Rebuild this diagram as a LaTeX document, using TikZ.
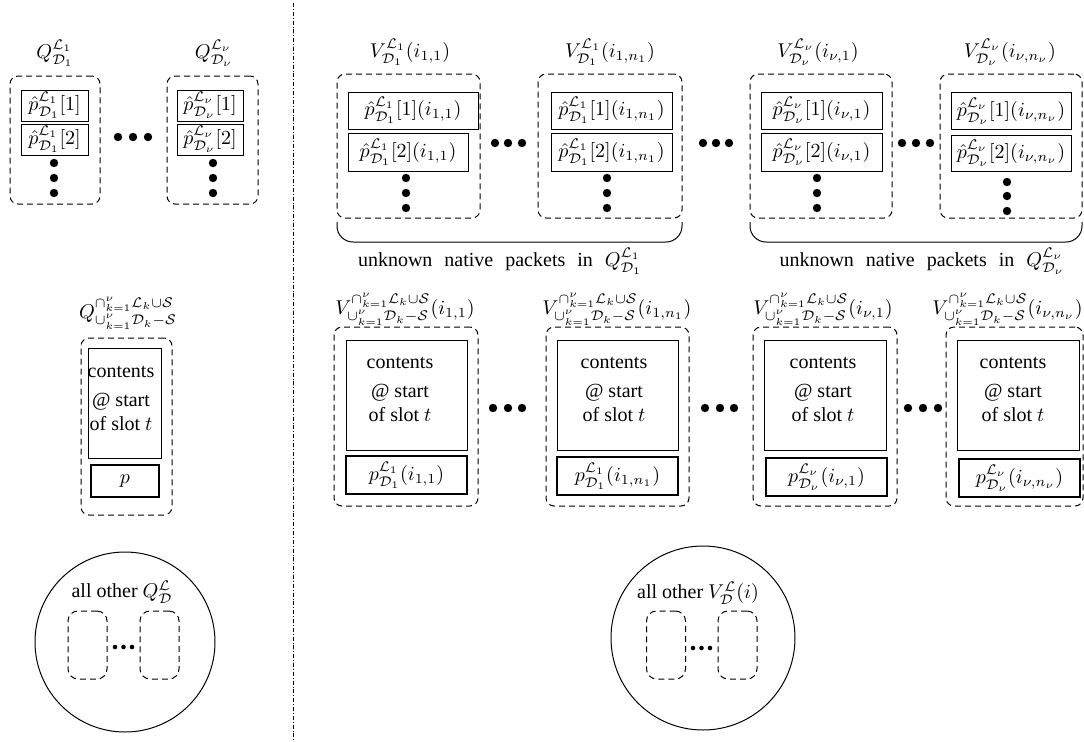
\documentclass[tikz,border=0pt]{standalone}
\usepackage[no-math]{fontspec}
\setmainfont{Liberation Serif}
\newcommand{\Ssup}{\smash{\raisebox{1.7pt}{$\scriptstyle\cap_{k=1}^{\nu}\mathcal{L}_k\cup\mathcal{S}$}}}
\newcommand{\Ssub}{\smash{\raisebox{-1pt}{$\scriptstyle\cup_{k=1}^{\nu}\mathcal{D}_k-\mathcal{S}$}}}
\begin{document}
\begin{tikzpicture}[x=0.5pt,y=-0.5pt,
  obox/.style={draw, dash pattern=on 3pt off 2pt, rounded corners=4pt, line width=0.5pt, inner sep=0pt},
  pbox/.style={draw, line width=0.5pt, inner sep=0pt},
  tbox/.style={draw, line width=1.3pt, inner sep=0pt},
  sbox/.style={draw, dash pattern=on 3pt off 2pt, rounded corners=5pt, line width=0.5pt, inner sep=0pt, minimum width=19.5pt, minimum height=34pt},
  bdot/.style={circle, fill, inner sep=0pt, minimum size=4.2pt},
  sdot/.style={circle, fill, inner sep=0pt, minimum size=2.3pt},
  title/.style={inner sep=0pt},
  ctext/.style={align=center, inner sep=0pt},
  bigcirc/.style={draw, circle, line width=0.5pt, inner sep=0pt}
]
\useasboundingbox (0,0) rectangle (1084,741);

% separator
\coordinate (vt) at (293,3);
\coordinate (vb) at (293,741);
\draw[line width=0.5pt, dash pattern=on 2pt off 1pt on 0.4pt off 1pt] (vt) -- (vb);

% ---------- top left ----------
\node[title] (q1t) at (55,53) {$Q^{\mathcal{L}_1}_{\mathcal{D}_1}$};
\node[obox, minimum width=45pt, minimum height=64pt] (q1) at (55,140) {};
\node[pbox, minimum width=33.5pt, minimum height=15.5pt] (q1a) at (54.5,105.5) {$\hat{p}^{\mathcal{L}_1}_{\mathcal{D}_1}[1]$};
\node[pbox, minimum width=33.5pt, minimum height=15.5pt] (q1b) at (54.5,139.5) {$\hat{p}^{\mathcal{L}_1}_{\mathcal{D}_1}[2]$};
\node[bdot] (q1d1) at (54,163) {};
\node[bdot] (q1d2) at (54,178) {};
\node[bdot] (q1d3) at (54,193) {};

\node[bdot] (qh1) at (118,137) {};
\node[bdot] (qh2) at (133,137) {};
\node[bdot] (qh3) at (148,137) {};

\node[title] (q2t) at (214,53) {$Q^{\mathcal{L}_\nu}_{\mathcal{D}_\nu}$};
\node[obox, minimum width=45.5pt, minimum height=64pt] (q2) at (212.5,140) {};
\node[pbox, minimum width=33pt, minimum height=15.5pt] (q2a) at (210,105.5) {$\hat{p}^{\mathcal{L}_\nu}_{\mathcal{D}_\nu}[1]$};
\node[pbox, minimum width=33pt, minimum height=15.5pt] (q2b) at (210,139.5) {$\hat{p}^{\mathcal{L}_\nu}_{\mathcal{D}_\nu}[2]$};
\node[bdot] (q2d1) at (213,163) {};
\node[bdot] (q2d2) at (213,178) {};
\node[bdot] (q2d3) at (213,193) {};

% ---------- top right ----------
\node[title] (v1t) at (410,52) {$V^{\mathcal{L}_1}_{\mathcal{D}_1}(i_{1,1})$};
\node[obox, minimum width=71.5pt, minimum height=72pt] (v1) at (408.5,146) {};
\node[pbox, minimum width=65pt, minimum height=18.5pt] (v1a) at (413,110.5) {$\hat{p}^{\mathcal{L}_1}_{\mathcal{D}_1}[1](i_{1,1})$};
\node[pbox, minimum width=60pt, minimum height=19pt] (v1b) at (408,152) {$\hat{p}^{\mathcal{L}_1}_{\mathcal{D}_1}[2](i_{1,1})$};
\node[bdot] (v1d1) at (406,178) {};
\node[bdot] (v1d2) at (406,193) {};
\node[bdot] (v1d3) at (406,208) {};

\node[bdot] (vh11) at (495,143) {};
\node[bdot] (vh12) at (508,143) {};
\node[bdot] (vh13) at (522,143) {};

\node[title] (v2t) at (610,52) {$V^{\mathcal{L}_1}_{\mathcal{D}_1}(i_{1,n_1})$};
\node[obox, minimum width=72pt, minimum height=72pt] (v2) at (610,146) {};
\node[pbox, minimum width=60.5pt, minimum height=18.5pt] (v2a) at (611.5,110.5) {$\hat{p}^{\mathcal{L}_1}_{\mathcal{D}_1}[1](i_{1,n_1})$};
\node[pbox, minimum width=60.5pt, minimum height=19pt] (v2b) at (611.5,152) {$\hat{p}^{\mathcal{L}_1}_{\mathcal{D}_1}[2](i_{1,n_1})$};
\node[bdot] (v2d1) at (607,178) {};
\node[bdot] (v2d2) at (607,193) {};
\node[bdot] (v2d3) at (607,208) {};

\node[bdot] (vh21) at (703,143) {};
\node[bdot] (vh22) at (716,143) {};
\node[bdot] (vh23) at (729,143) {};

\node[title] (v3t) at (818,52) {$V^{\mathcal{L}_\nu}_{\mathcal{D}_\nu}(i_{\nu,1})$};
\node[obox, minimum width=71pt, minimum height=72pt] (v3) at (821,146) {};
\node[pbox, minimum width=60.5pt, minimum height=18.5pt] (v3a) at (821.5,110.5) {$\hat{p}^{\mathcal{L}_\nu}_{\mathcal{D}_\nu}[1](i_{\nu,1})$};
\node[pbox, minimum width=60.5pt, minimum height=19pt] (v3b) at (821.5,152) {$\hat{p}^{\mathcal{L}_\nu}_{\mathcal{D}_\nu}[2](i_{\nu,1})$};
\node[bdot] (v3d1) at (817,178) {};
\node[bdot] (v3d2) at (817,193) {};
\node[bdot] (v3d3) at (817,208) {};

\node[bdot] (vh31) at (902,143) {};
\node[bdot] (vh32) at (916,143) {};
\node[bdot] (vh33) at (930,143) {};

\node[title] (v4t) at (1010,52) {$V^{\mathcal{L}_\nu}_{\mathcal{D}_\nu}(i_{\nu,n_\nu})$};
\node[obox, minimum width=71pt, minimum height=72pt] (v4) at (1011,146) {};
\node[pbox, minimum width=60pt, minimum height=18.5pt] (v4a) at (1011,111) {$\hat{p}^{\mathcal{L}_\nu}_{\mathcal{D}_\nu}[1](i_{\nu,n_\nu})$};
\node[pbox, minimum width=60pt, minimum height=18pt] (v4b) at (1011,153) {$\hat{p}^{\mathcal{L}_\nu}_{\mathcal{D}_\nu}[2](i_{\nu,n_\nu})$};
\node[bdot] (v4d1) at (1007,182) {};
\node[bdot] (v4d2) at (1007,196) {};
\node[bdot] (v4d3) at (1007,211) {};

% braces
\coordinate (b1a) at (337,222);
\coordinate (b1b) at (682,222);
\coordinate (b1c) at (510,242);
\draw[line width=0.5pt, rounded corners=8pt] (b1a) |- (b1c) -| (b1b);
\node[title] (b1l) at (500,261) {\spaceskip=6pt plus 1pt unknown native packets in $Q^{\mathcal{L}_1}_{\mathcal{D}_1}$};

\coordinate (b2a) at (750,222);
\coordinate (b2b) at (1082,222);
\coordinate (b2c) at (916,242);
\draw[line width=0.5pt, rounded corners=8pt] (b2a) |- (b2c) -| (b2b);
\node[title] (b2l) at (922,261) {\spaceskip=6pt plus 1pt unknown native packets in $Q^{\mathcal{L}_\nu}_{\mathcal{D}_\nu}$};

% ---------- middle left ----------
\node[title, anchor=base] (mqt) at (128,318) {$Q^{\Ssup}_{\Ssub}$};
\node[obox, minimum width=45.5pt, minimum height=88.5pt] (mq) at (126.5,426.5) {};
\node[pbox, minimum width=36.5pt, minimum height=55pt] (mqc) at (124.5,403) {};
\node[ctext] (mqct) at (121,398) {contents\\[2.5pt]@ start\hspace*{6pt}\\of slot $t$};
\node[tbox, minimum width=34pt, minimum height=16pt] (mqp) at (125,481) {$p$};

% ---------- middle right ----------
\node[title, anchor=base] (m1t) at (405,314) {$V^{\Ssup}_{\Ssub}(i_{1,1})$};
\node[obox, minimum width=72pt, minimum height=89.5pt] (m1) at (406,416.5) {};
\node[pbox, minimum width=60.5pt, minimum height=55pt] (m1c) at (406.5,395) {};
\node[ctext] (m1ct) at (400,389) {contents\\[2.5pt]@ start\hspace*{8pt}\\of slot $t$};
\node[tbox, minimum width=60.5pt, minimum height=19pt] (m1p) at (406.5,475) {$p^{\mathcal{L}_1}_{\mathcal{D}_1}(i_{1,1})$};

\node[bdot] (mh11) at (493,408) {};
\node[bdot] (mh12) at (508,408) {};
\node[bdot] (mh13) at (522,408) {};

\node[title, anchor=base] (m2t) at (617,314) {$V^{\Ssup}_{\Ssub}(i_{1,n_1})$};
\node[obox, minimum width=71.5pt, minimum height=89.5pt] (m2) at (617.5,416.5) {};
\node[pbox, minimum width=60.5pt, minimum height=55pt] (m2c) at (617.5,395) {};
\node[ctext] (m2ct) at (614,389) {contents\\[2.5pt]@ start\hspace*{2pt}\\of slot $t$};
\node[tbox, minimum width=60.5pt, minimum height=19pt] (m2p) at (617.5,476) {$p^{\mathcal{L}_1}_{\mathcal{D}_1}(i_{1,n_1})$};

\node[bdot] (mh21) at (705,408) {};
\node[bdot] (mh22) at (720,408) {};
\node[bdot] (mh23) at (734,408) {};

\node[title, anchor=base] (m3t) at (823,314) {$V^{\Ssup}_{\Ssub}(i_{\nu,1})$};
\node[obox, minimum width=72pt, minimum height=89.5pt] (m3) at (825,416.5) {};
\node[pbox, minimum width=61pt, minimum height=55pt] (m3c) at (825,395) {};
\node[ctext] (m3ct) at (823,389) {contents\\[2.5pt]@ start\\of slot $t$};
\node[tbox, minimum width=60.5pt, minimum height=19pt] (m3p) at (826.5,477) {$p^{\mathcal{L}_\nu}_{\mathcal{D}_\nu}(i_{\nu,1})$};

\node[bdot] (mh31) at (908,408) {};
\node[bdot] (mh32) at (923,408) {};
\node[bdot] (mh33) at (938,408) {};

\node[title, anchor=base east] (m4t) at (1083,314) {$V^{\Ssup}_{\Ssub}(i_{\nu,n_\nu})$};
\node[obox, minimum width=68.5pt, minimum height=89.5pt] (m4) at (1014.5,416.5) {};
\node[pbox, minimum width=61pt, minimum height=55pt] (m4c) at (1018,395) {};
\node[ctext] (m4ct) at (1013,389) {contents\\[2.5pt]@ start\\of slot $t$};
\node[tbox, minimum width=60.5pt, minimum height=19pt] (m4p) at (1019.5,478) {$p^{\mathcal{L}_\nu}_{\mathcal{D}_\nu}(i_{\nu,n_\nu})$};

% ---------- bottom ----------
\node[bigcirc, minimum size=90pt] (c1) at (125,642) {};
\node[title] (c1t) at (122,592) {all other $Q^{\mathcal{L}}_{\mathcal{D}}$};
\node[sbox] (c1a) at (87.5,645) {};
\node[sbox] (c1b) at (159.5,645) {};
\node[sdot] (c1d1) at (115,647) {};
\node[sdot] (c1d2) at (123.5,647) {};
\node[sdot] (c1d3) at (132,647) {};

\node[bigcirc, minimum size=92pt] (c2) at (703,638) {};
\node[title] (c2t) at (698,593) {all other $V^{\mathcal{L}}_{\mathcal{D}}(i)$};
\node[sbox] (c2a) at (666,645) {};
\node[sbox] (c2b) at (737.5,645) {};
\node[sdot] (c2d1) at (693,648) {};
\node[sdot] (c2d2) at (701.5,648) {};
\node[sdot] (c2d3) at (710,648) {};
\end{tikzpicture}
\end{document}
